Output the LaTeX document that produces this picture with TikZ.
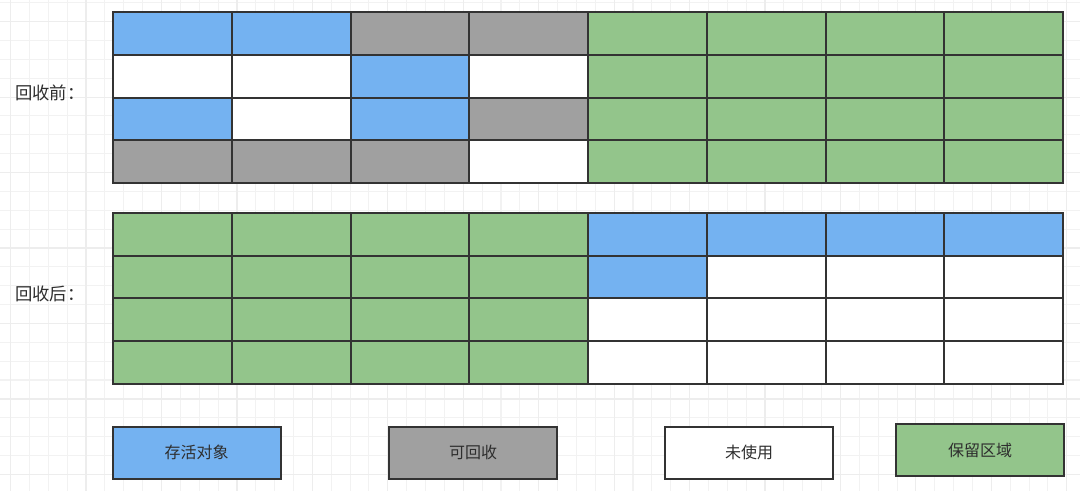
\documentclass[tikz,border=0pt]{standalone}
\usepackage{fontspec}
\setmainfont{Noto Sans CJK SC}
\usetikzlibrary{positioning}
\usepackage{xcolor}

\definecolor{live}{HTML}{74B2F1}
\definecolor{dead}{HTML}{A0A0A0}
\definecolor{keep}{HTML}{93C58B}
\colorlet{free}{white}
\definecolor{edge}{HTML}{333333}
\definecolor{ink}{HTML}{2E2E2E}
\definecolor{bgthin}{HTML}{F2F2F2}
\definecolor{bgthick}{HTML}{EDEDED}

\begin{document}
\begin{tikzpicture}[x=0.75pt,y=-0.75pt,
    cell/.style={draw=edge, line width=1.5pt},
    tag/.style={draw=edge, line width=1.5pt, minimum width=126pt, minimum height=39pt,
      text=ink, font=\fontsize{12}{14}\selectfont},
    title/.style={text=ink, anchor=west, inner sep=0pt, font=\fontsize{13}{15}\selectfont}]
    \useasboundingbox (0,0) rectangle (1080,491);
    \fill[white] (0,0) rectangle (1080,491);

    % background grid
    \foreach \i in {0,...,56}
        \draw[bgthin, line width=0.8pt] ({10.6+18.86*\i},0) -- ++(0,491);
    \foreach \i in {0,...,26}
        \draw[bgthin, line width=0.8pt] (0,{2.8+18.86*\i}) -- ++(1080,0);
    \foreach \i in {0,...,14}
        \draw[bgthick, line width=0.9pt] ({10.6+75.44*\i},0) -- ++(0,491);
    \foreach \i in {0,...,6}
        \draw[bgthick, line width=0.9pt] (0,{21.7+75.44*\i}) -- ++(1080,0);

    % before collection
    \foreach [count=\r from 0] \cols in {{live,live,dead,dead,keep,keep,keep,keep},
                                         {free,free,live,free,keep,keep,keep,keep},
                                         {live,free,live,dead,keep,keep,keep,keep},
                                         {dead,dead,dead,free,keep,keep,keep,keep}}
        \foreach [count=\c from 0] \k in \cols
            \draw[cell, fill=\k] ({113+118.75*\c},{12.5+42.6*\r}) rectangle ++(118.75,42.6);

    % after collection
    \foreach [count=\r from 0] \cols in {{keep,keep,keep,keep,live,live,live,live},
                                         {keep,keep,keep,keep,live,free,free,free},
                                         {keep,keep,keep,keep,free,free,free,free},
                                         {keep,keep,keep,keep,free,free,free,free}}
        \foreach [count=\c from 0] \k in \cols
            \draw[cell, fill=\k] ({113+118.75*\c},{213.3+42.6*\r}) rectangle ++(118.75,42.6);

    \node[title] (before) at (15,93) {回收前：};
    \node[title] (after) at (15,294) {回收后：};

    % legend
    \node[tag, fill=live] (leglive) at (196.5,452.5) {存活对象};
    \node[tag, fill=dead] (legdead) at (473,452.5) {可回收};
    \node[tag, fill=free] (legfree) at (749,452.5) {未使用};
    \node[tag, fill=keep] (legkeep) at (980,450) {保留区域};
\end{tikzpicture}
\end{document}
